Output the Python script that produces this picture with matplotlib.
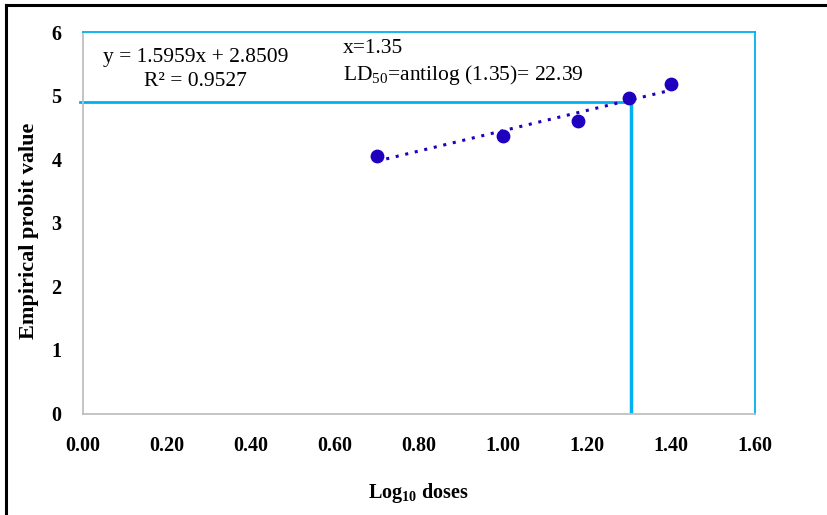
import matplotlib.pyplot as plt
from matplotlib.lines import Line2D

# data
log_doses = [0.70, 1.00, 1.18, 1.30, 1.40]
probits = [4.05, 4.36, 4.60, 4.96, 5.19]
slope, intercept = 1.5959, 2.8509
ld_x, ld_y = 1.304, 4.90
x_ticks = [0.0, 0.2, 0.4, 0.6, 0.8, 1.0, 1.2, 1.4, 1.6]
y_ticks = [0, 1, 2, 3, 4, 5, 6]

plt.rcParams['font.family'] = ['Liberation Serif', 'DejaVu Serif']
plt.rcParams['mathtext.fontset'] = 'custom'
plt.rcParams['mathtext.rm'] = 'Liberation Serif'
plt.rcParams['mathtext.bf'] = 'Liberation Serif:bold'

fig = plt.figure(figsize=(8.27, 5.15), dpi=100)
ax = fig.add_axes([82.5 / 827, 1 - 413.5 / 515, 672.5 / 827, 381.5 / 515])

ax.set_xlim(0, 1.6)
ax.set_ylim(0, 6)

# spines
ax.spines['left'].set_color('#bfbfbf')
ax.spines['bottom'].set_color('#bfbfbf')
ax.spines['top'].set_color('#00b0f0')
ax.spines['right'].set_color('#00b0f0')
for s in ax.spines.values():
    s.set_linewidth(1.3)

# trendline
tx = [min(log_doses), max(log_doses)]
ty = [slope * v + intercept for v in tx]
ax.plot(tx, ty, color='#1f00bf', linestyle=(0, (1, 2.2)), linewidth=2.2, zorder=3)

# points
ax.scatter(log_doses, probits, s=80, color='#1f00bf', zorder=4)

# LD50 guide lines
ax.plot([-0.005, ld_x], [ld_y, ld_y], color='#00b0f0', linewidth=2, clip_on=False, zorder=2)
ax.plot([ld_x, ld_x], [0, ld_y], color='#00b0f0', linewidth=2.5, zorder=2)

ax.set_xticks(x_ticks)
ax.set_xticklabels([f'{v:.2f}' for v in x_ticks], fontweight='bold', fontsize=14.5)
ax.set_yticks(y_ticks)
ax.set_yticklabels([str(v) for v in y_ticks], fontweight='bold', fontsize=14.5)
ax.tick_params(axis='x', length=0, pad=16)
ax.tick_params(axis='y', length=0, pad=15)

ax.set_xlabel(r'Log$_{\mathbf{10}}$ doses', fontweight='bold', fontsize=14.5, labelpad=18)
ax.set_ylabel('Empirical probit value', fontweight='bold', fontsize=16)
ax.yaxis.set_label_coords(-0.065, 0.478)

ax.text(0.049, 5.41, f'y = {slope}x + {intercept}\nR² = 0.9527', fontsize=15.5,
        ha='left', va='center', multialignment='center', linespacing=1.3)
ax.text(0.62, 5.74, 'x=1.35', fontsize=15.5, ha='left', va='center')
ax.text(0.62, 5.33, r'LD$_{50}$=antilog (1.35)= 22.39', fontsize=15.5, ha='left', va='center')

# outer frame (left and top only)
fig.add_artist(Line2D([5.5 / 827, 5.5 / 827], [0, 1 - 5 / 515], color='black', linewidth=2.2))
fig.add_artist(Line2D([5.5 / 827, 1], [1 - 5 / 515, 1 - 5 / 515], color='black', linewidth=2.2))

fig.savefig('out.png', dpi=100)
